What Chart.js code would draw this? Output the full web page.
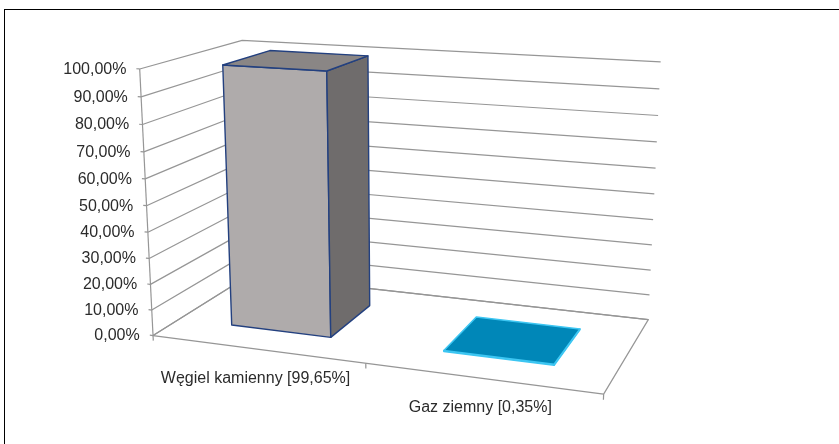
<!DOCTYPE html>
<html><head><meta charset="utf-8">
<script src="https://cdn.jsdelivr.net/npm/chart.js@4.4.1/dist/chart.umd.min.js"></script>
<style>
html,body{margin:0;padding:0;background:#fff;overflow:hidden;}
#wrap{position:absolute;left:0;top:0;width:839px;height:444px;}
#frame{position:absolute;left:4px;top:9px;right:0;bottom:0;border-top:1px solid #000;border-left:1px solid #000;}
canvas{position:absolute;left:0;top:0;}
</style></head><body>
<div id="wrap"><div id="frame"></div><canvas id="c" width="839" height="444"></canvas></div>
<script>
// ---- data ----
const categories = ['Węgiel kamienny [99,65%]', 'Gaz ziemny [0,35%]'];
const shares = [99.65, 0.35];
const axisMin = 0, axisMax = 100, axisStep = 10;
const tickLabel = v => v.toFixed(2).replace('.', ',') + '%';

// ---- styles / layout ----
const FONT = '16px "Liberation Sans", Arial, sans-serif';
const TEXT = '#2b2b2b';
const GRID = '#969696';
const faceStyles = [
  {front:'#AFABAB', side:'#6F6C6C', top:'#8A8685', edge:'#23407F', lw:1.4},
  {front:'#0087B8', side:'#0087B8', top:'#0087B8', edge:'#3DC6F2', lw:1.6}
];
const barDepth = [0.255, 0.745];      // bar extent along depth (fraction of floor depth)
// perspective frame anchors: [u(category), v(value), w(depth)] -> screen px
const frameAnchors = [
  [[0,0,0],[153.3,336.7]],
  [[0,1,0],[140,69.3]],
  [[0,1,1],[241.7,40.7]],
  [[1,1,1],[661,62]],
  [[1,0,1],[648.3,319.3]],
  [[1,0,0],[603.3,394.3]],
  [[0,0,1],[249.5,275]],
  [[0,0.5,0],[146.3,204]],
  [[1,0.5,1],[654.3,194]]
];

function solve(M,B){
  const n=B.length;
  for(let c=0;c<n;c++){
    let p=c; for(let r=c+1;r<n;r++) if(Math.abs(M[r][c])>Math.abs(M[p][c])) p=r;
    [M[c],M[p]]=[M[p],M[c]]; [B[c],B[p]]=[B[p],B[c]];
    for(let r=c+1;r<n;r++){ const f=M[r][c]/M[c][c]; for(let k=c;k<n;k++) M[r][k]-=f*M[c][k]; B[r]-=f*B[c]; }
  }
  const x=new Array(n).fill(0);
  for(let r=n-1;r>=0;r--){ let s=B[r]; for(let k=r+1;k<n;k++) s-=M[r][k]*x[k]; x[r]=s/M[r][r]; }
  return x;
}
const NX=400, NY=200, NS=300;
function fitProjection(pts){
  const N=11, M=[...Array(N)].map(()=>new Array(N).fill(0)), B=new Array(N).fill(0);
  const add=(row,rhs)=>{ for(let i=0;i<N;i++){ for(let j=0;j<N;j++) M[i][j]+=row[i]*row[j]; B[i]+=row[i]*rhs; } };
  for(const [[X,Y,Z],[sx,sy]] of pts){
    const x=(sx-NX)/NS, y=(sy-NY)/NS;
    add([X,Y,Z,1,0,0,0,0,-x*X,-x*Y,-x*Z], x);
    add([0,0,0,0,X,Y,Z,1,-y*X,-y*Y,-y*Z], y);
  }
  return solve(M,B);
}
const PROJ = fitProjection(frameAnchors);
function project(u,v,w){
  const P=PROJ, d=P[8]*u+P[9]*v+P[10]*w+1;
  return [NX+NS*(P[0]*u+P[1]*v+P[2]*w+P[3])/d, NY+NS*(P[4]*u+P[5]*v+P[6]*w+P[7])/d];
}

const threeD = {
  id:'threeD',
  afterDraw(chart){
    const ctx=chart.ctx, xs=chart.scales.x, ys=chart.scales.y, a=chart.chartArea;
    const U = px => (px - a.left)/(a.right - a.left);
    const V = py => (a.bottom - py)/(a.bottom - a.top);
    const path = (pts, close) => { ctx.beginPath(); pts.forEach((p,i)=> i?ctx.lineTo(p[0],p[1]):ctx.moveTo(p[0],p[1])); if(close) ctx.closePath(); };
    ctx.save();
    ctx.lineJoin='round'; ctx.lineCap='butt';
    // walls: gridlines
    ctx.strokeStyle=GRID; ctx.lineWidth=1.2;
    ys.ticks.forEach(t=>{
      const v=V(ys.getPixelForValue(t.value));
      path([project(0,v,0),project(0,v,1),project(1,v,1)]); ctx.stroke();
    });
    // floor outline
    path([project(0,0,0),project(1,0,0),project(1,0,1),project(0,0,1)], true); ctx.stroke();
    // value axis line + ticks
    path([project(0,0,0),project(0,1,0)]); ctx.stroke();
    ys.ticks.forEach(t=>{
      const v=V(ys.getPixelForValue(t.value));
      path([project(0,v,0),project(-0.008,v,0)]); ctx.stroke();
    });
    // category axis ticks at category boundaries
    for(let i=0;i<=categories.length;i++){
      const u=U(xs.getPixelForValue(i-0.5));
      path([project(u,0,0),project(u,-0.02,0)]); ctx.stroke();
    }
    // bars
    const meta=chart.getDatasetMeta(0);
    meta.data.forEach((bar,i)=>{
      const p=bar.getProps(['x','y','base','width'],true);
      const u0=U(p.x-p.width/2), u1=U(p.x+p.width/2), v0=V(p.base), v1=V(p.y);
      const w0=barDepth[0], w1=barDepth[1];
      const st=faceStyles[i];
      const faces=[
        [[[u0,v0,w0],[u1,v0,w0],[u1,v1,w0],[u0,v1,w0]], st.front],
        [[[u1,v0,w1],[u0,v0,w1],[u0,v1,w1],[u1,v1,w1]], st.front],
        [[[u1,v0,w0],[u1,v0,w1],[u1,v1,w1],[u1,v1,w0]], st.side],
        [[[u0,v0,w1],[u0,v0,w0],[u0,v1,w0],[u0,v1,w1]], st.side],
        [[[u0,v1,w0],[u1,v1,w0],[u1,v1,w1],[u0,v1,w1]], st.top],
        [[[u0,v0,w1],[u1,v0,w1],[u1,v0,w0],[u0,v0,w0]], st.top]
      ];
      faces.forEach(([pts,col])=>{
        const s=pts.map(q=>project(q[0],q[1],q[2]));
        let area=0; for(let k=0;k<4;k++){const A=s[k],B=s[(k+1)%4]; area+=A[0]*B[1]-B[0]*A[1];}
        if(area<0){
          path(s,true); ctx.fillStyle=col; ctx.fill();
          ctx.strokeStyle=st.edge; ctx.lineWidth=st.lw; ctx.stroke();
        }
      });
    });
    // labels
    ctx.font=FONT; ctx.fillStyle=TEXT;
    ctx.textAlign='right'; ctx.textBaseline='middle';
    ys.ticks.forEach(t=>{
      const v=V(ys.getPixelForValue(t.value));
      const q=project(0,v,0);
      ctx.fillText(t.label, q[0]-13.3, q[1]+0.5);
    });
    ctx.textAlign='center';
    xs.ticks.forEach((t,i)=>{
      const u=U(xs.getPixelForTick(i));
      const q=project(u,0,0);
      ctx.fillText(xs.getLabelForValue(t.value), q[0]-1, q[1]+29.5);
    });
    ctx.restore();
  }
};

new Chart(document.getElementById('c'), {
  type:'bar',
  data:{labels:categories, datasets:[{data:shares, backgroundColor:'rgba(0,0,0,0)', borderWidth:0, barPercentage:0.48, categoryPercentage:1}]},
  options:{
    responsive:false, animation:false, devicePixelRatio:1,
    layout:{padding:20},
    plugins:{legend:{display:false}, tooltip:{enabled:false}, title:{display:false}},
    scales:{
      x:{display:true, offset:true, grid:{display:false}, border:{display:false}, ticks:{display:false}},
      y:{display:true, min:axisMin, max:axisMax, grid:{display:false}, border:{display:false},
         ticks:{display:false, stepSize:axisStep, callback:tickLabel}}
    }
  },
  plugins:[threeD]
});
</script>
</body></html>
